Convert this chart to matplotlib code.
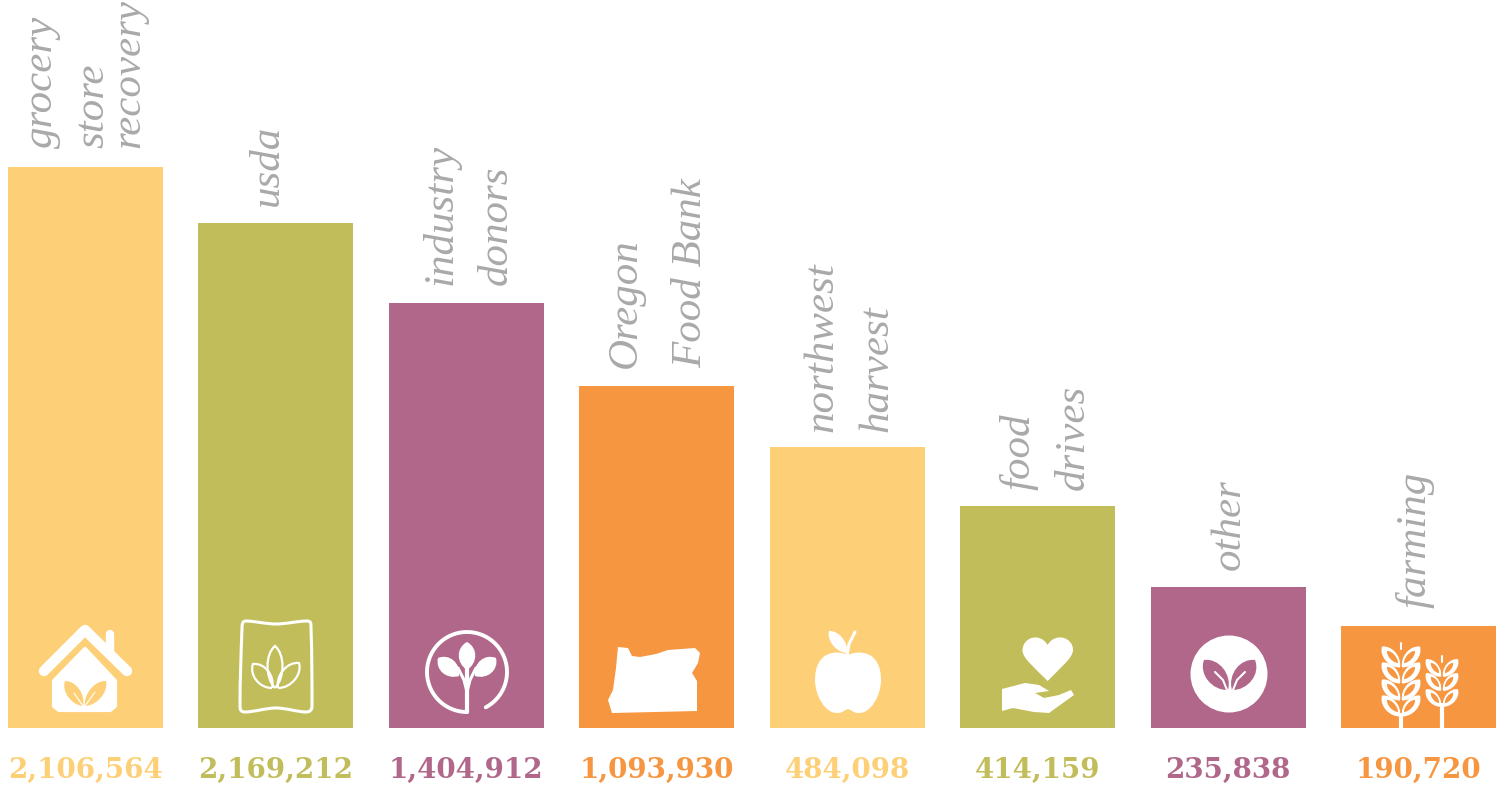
import numpy as np
from matplotlib import pyplot as plt
from matplotlib.patches import Circle, PathPatch, Polygon
from matplotlib.path import Path

# Bar heights are what the graphic shows, they do not follow the printed totals
bar_heights = [561, 505, 425, 342, 281, 222, 141, 102]
value_labels = [
    "2,106,564",
    "2,169,212",
    "1,404,912",
    "1,093,930",
    "484,098",
    "414,159",
    "235,838",
    "190,720",
]
category_lines = [
    ["grocery", "store", "recovery"],
    ["usda"],
    ["industry", "donors"],
    ["Oregon", "Food Bank"],
    ["northwest", "harvest"],
    ["food", "drives"],
    ["other"],
    ["farming"],
]

YELLOW = "#FDD078"
OLIVE = "#C2BD5B"
PURPLE = "#B0678A"
ORANGE = "#F69641"
LABEL_GREY = "#A9A9AB"
bar_colors = [YELLOW, OLIVE, PURPLE, ORANGE, YELLOW, OLIVE, PURPLE, ORANGE]

# Label placement in picture pixels: baseline x for each line, bottom y per bar
label_baselines = [
    [52, 103, 139],
    [278],
    [452, 507],
    [636, 701],
    [832, 887],
    [1030, 1084],
    [1240],
    [1426],
]
label_bottoms = [148, 206, 285, 368, 432, 490, 570, 608]


def leaf(ax, base, tip, bulge, color, fill=True, lw=2.0):
    """Pointed leaf between two points, drawn as two bezier sides."""
    base = np.array(base, dtype=float)
    tip = np.array(tip, dtype=float)
    along = tip - base
    normal = np.array([-along[1], along[0]]) / np.hypot(*along)
    verts = [
        base,
        base + 0.25 * along + bulge * normal,
        base + 0.8 * along + bulge * normal,
        tip,
        base + 0.8 * along - bulge * normal,
        base + 0.25 * along - bulge * normal,
        base,
    ]
    codes = [Path.MOVETO] + [Path.CURVE4] * 6
    ax.add_patch(
        PathPatch(
            Path(verts, codes),
            facecolor=color if fill else "none",
            edgecolor=color,
            lw=lw if not fill else 0,
        )
    )


def white_line(ax, xs, ys, lw):
    ax.plot(xs, ys, color="white", lw=lw, solid_capstyle="round", solid_joinstyle="round")


def draw_house(ax):
    white_line(ax, [44, 85, 127], [671, 630, 671], 7.5)
    white_line(ax, [110, 110], [634, 652], 6)
    ax.add_patch(
        Polygon(
            [(85, 649), (115, 681), (115, 706), (110, 710), (59, 710), (54, 706), (54, 681)],
            facecolor="white",
            edgecolor="white",
            lw=3,
            joinstyle="round",
        )
    )
    leaf(ax, (83, 706), (65, 681), 9, YELLOW)
    leaf(ax, (85, 706), (106, 681), 9, YELLOW)
    white_line(ax, [83, 74], [706, 693], 0.8)
    white_line(ax, [85, 95], [706, 692], 0.8)


def draw_bag(ax):
    verts = [
        (246, 621),
        (254, 621),
        (266, 624),
        (276, 624),
        (286, 624),
        (298, 621),
        (307, 621),
        (311, 621),
        (311, 623),
        (311, 628),
        (312, 655),
        (312, 680),
        (312, 706),
        (312, 710),
        (310, 712),
        (306, 712),
        (298, 712),
        (286, 708),
        (276, 708),
        (266, 708),
        (254, 712),
        (245, 712),
        (241, 712),
        (240, 710),
        (240, 706),
        (240, 680),
        (241, 655),
        (242, 628),
        (242, 623),
        (243, 621),
        (246, 621),
    ]
    codes = [Path.MOVETO] + [Path.CURVE4] * 30
    ax.add_patch(PathPatch(Path(verts, codes), facecolor="none", edgecolor="white", lw=2.2))
    leaf(ax, (275, 688), (275, 646), 10, "white", fill=False, lw=1.6)
    leaf(ax, (272, 688), (253, 664), 10, "white", fill=False, lw=1.6)
    leaf(ax, (278, 688), (299, 663), 10, "white", fill=False, lw=1.6)


def draw_plant(ax):
    theta = np.radians(np.linspace(90, 422, 120))
    white_line(ax, 467 + 40 * np.cos(theta), 672 + 40 * np.sin(theta), 2.8)
    white_line(ax, [467, 467], [712, 660], 3)
    white_line(ax, [467, 464, 458], [692, 680, 668], 2.2)
    white_line(ax, [467, 470, 476], [692, 680, 668], 2.2)
    leaf(ax, (467, 670), (467, 642), 11, "white")
    leaf(ax, (459, 676), (438, 658), 11, "white")
    leaf(ax, (475, 676), (496, 658), 11, "white")


def draw_oregon(ax):
    ax.add_patch(
        Polygon(
            [
                (618, 647),
                (628, 648),
                (632, 656),
                (640, 657),
                (656, 654),
                (668, 650),
                (695, 648),
                (700, 653),
                (698, 663),
                (692, 673),
                (697, 681),
                (697, 711),
                (612, 713),
                (608, 700),
                (613, 690),
                (616, 668),
            ],
            color="white",
            lw=0,
        )
    )


def draw_apple(ax):
    verts = [
        (848, 655),
        (838, 650),
        (815, 650),
        (815, 680),
        (815, 695),
        (825, 714),
        (838, 713),
        (842, 713),
        (845, 710),
        (848, 709),
        (851, 710),
        (854, 713),
        (858, 713),
        (871, 714),
        (881, 695),
        (881, 680),
        (881, 650),
        (858, 650),
        (848, 655),
    ]
    codes = [Path.MOVETO] + [Path.CURVE4] * 18
    ax.add_patch(PathPatch(Path(verts, codes), facecolor="white", lw=0))
    leaf(ax, (847, 653), (829, 631), 8, "white")
    white_line(ax, [847, 849, 855], [656, 644, 632], 2.2)


def draw_heart_hand(ax):
    verts = [
        (1047.6, 681),
        (1035, 668),
        (1022, 658),
        (1022.5, 650),
        (1023, 637),
        (1040, 632),
        (1047.6, 645),
        (1055, 632),
        (1073, 637),
        (1073, 650),
        (1073, 658),
        (1060, 668),
        (1047.6, 681),
    ]
    codes = [Path.MOVETO] + [Path.CURVE4] * 12
    ax.add_patch(PathPatch(Path(verts, codes), facecolor="white", lw=0))
    ax.add_patch(
        Polygon(
            [
                (1002, 689),
                (1025, 683),
                (1039, 685),
                (1049, 691),
                (1035, 693),
                (1044, 698),
                (1059, 695),
                (1071, 690),
                (1074, 695),
                (1049, 713),
                (1034, 712),
                (1013, 708),
                (1002, 711),
            ],
            color="white",
            lw=0,
        )
    )


def draw_seedling(ax):
    ax.add_patch(Circle((1229, 674), 38.5, color="white", lw=0))
    leaf(ax, (1228, 690), (1204, 660), 13, PURPLE)
    leaf(ax, (1232, 690), (1255, 660), 13, PURPLE)
    white_line(ax, [1227, 1223, 1215], [690, 680, 672], 1.5)
    white_line(ax, [1233, 1237, 1245], [690, 680, 672], 1.5)


def draw_wheat(ax):
    white_line(ax, [1401, 1401], [715, 728], 3)
    white_line(ax, [1442, 1442], [705, 728], 3)
    for cx, rows, size in [(1401, [657, 673, 690, 706], 19), (1442, [668, 682, 698], 16)]:
        for y in rows:
            for side in (-1, 1):
                base = (cx + side, y + size * 0.55)
                tip = (cx + side * size, y - size * 0.55)
                leaf(ax, base, tip, size * 0.45, "white")
                leaf(ax, (cx + side * 3, y + size * 0.32), (cx + side * (size - 5), y - size * 0.32), size * 0.2, ORANGE)
        white_line(ax, [cx, cx], [rows[0] - size * 0.75, rows[0] - size * 0.4], 1.5)


icon_drawers = [
    draw_house,
    draw_bag,
    draw_plant,
    draw_oregon,
    draw_apple,
    draw_heart_hand,
    draw_seedling,
    draw_wheat,
]

W, H = 1505, 786
BASELINE_PX = 728
FIRST_CENTER_PX = 85.5
STEP_PX = 190.43

fig = plt.figure(figsize=(W / 100, H / 100), dpi=100)

# Main axes: categories on x, one unit of height is one pixel
ax = fig.add_axes([0, 0, 1, 1])
ax.set_xlim(-FIRST_CENTER_PX / STEP_PX, (W - FIRST_CENTER_PX) / STEP_PX)
ax.set_ylim(BASELINE_PX - H, BASELINE_PX)
ax.axis("off")

positions = np.arange(len(bar_heights))
ax.bar(positions, bar_heights, width=155 / STEP_PX, color=bar_colors, linewidth=0)

for pos, text, color in zip(positions, value_labels, bar_colors):
    ax.text(
        pos,
        -39,
        text,
        ha="center",
        va="center_baseline",
        fontsize=20,
        fontweight="bold",
        family="DejaVu Serif",
        color=color,
    )

# Overlay in picture pixels for the icons and rotated names
ax_px = fig.add_axes([0, 0, 1, 1], zorder=2)
ax_px.set_xlim(0, W)
ax_px.set_ylim(H, 0)
ax_px.axis("off")
ax_px.patch.set_alpha(0)

for draw in icon_drawers:
    draw(ax_px)

for lines, baselines, bottom in zip(category_lines, label_baselines, label_bottoms):
    for line, x in zip(lines, baselines):
        ax_px.text(
            x,
            bottom,
            line,
            rotation=90,
            rotation_mode="anchor",
            ha="left",
            va="baseline",
            fontsize=31,
            family="Liberation Serif",
            style="italic",
            color=LABEL_GREY,
        )

fig.savefig("out.png", dpi=100)
